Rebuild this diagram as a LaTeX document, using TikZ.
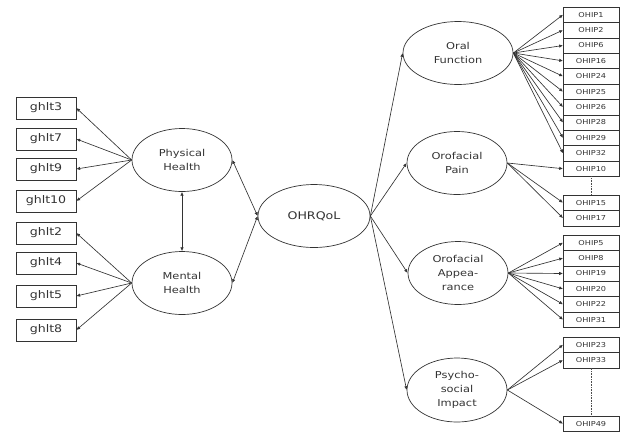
\documentclass[tikz,border=0pt]{standalone}
\usepackage{fontspec}
\newfontfamily\diagfont{DejaVu Sans}[FakeStretch=1.2]
\usepackage{tikz}
\usetikzlibrary{positioning,arrows.meta,shapes.geometric}
\tikzset{
  fac/.style  ={ellipse, draw=black!80, line width=0.7pt, minimum width=100pt, minimum height=63pt,
                inner sep=1pt, align=center, text=black!80, font=\diagfont\fontsize{9.5}{14}\selectfont},
  gbox/.style ={rectangle, draw=black!80, line width=0.7pt, minimum width=60pt, minimum height=22pt,
                inner sep=1pt, text=black!80, font=\diagfont\fontsize{10.5}{12}\selectfont},
  obox/.style ={rectangle, draw=black!80, line width=0.6pt, minimum width=56pt, minimum height=15.4pt,
                inner sep=0.5pt, outer sep=0pt, text=black!80, font=\diagfont\fontsize{6.8}{8}\selectfont},
  arr/.style  ={-{Latex[length=3.8pt,width=3.4pt]}, line width=0.65pt, draw=black!80},
  darr/.style ={{Latex[length=3.8pt,width=3.4pt]}-{Latex[length=3.8pt,width=3.4pt]}, line width=0.65pt, draw=black!80},
  dotline/.style={densely dotted, line width=0.6pt, draw=black!70},
}

\begin{document}
\begin{tikzpicture}[x=1pt, y=-1pt]
  \useasboundingbox (0,0) rectangle (626,432);
  % latent factors
  \node[fac, minimum width=112pt, font=\diagfont\fontsize{10.5}{14}\selectfont] (qol) at (314,216) {OHRQoL};
  \node[fac] (phys)   at (182,160) {Physical\\Health};
  \node[fac] (ment)   at (182,283) {Mental\\Health};
  \node[fac, minimum width=110pt] (oral) at (458,53) {Oral\\Function};
  \node[fac] (pain)   at (457,163) {Orofacial\\Pain};
  \node[fac] (appear) at (458,273) {Orofacial\\Appea-\\rance};
  \node[fac, minimum height=64pt] (psych) at (457,390) {Psycho-\\social\\Impact};

  % ghlt items
  \node[gbox] (g3)  at (46,108) {ghlt3};
  \node[gbox] (g7)  at (46,139) {ghlt7};
  \node[gbox] (g9)  at (46,169) {ghlt9};
  \node[gbox] (g10) at (46,201) {ghlt10};
  \node[gbox] (g2)  at (46,233) {ghlt2};
  \node[gbox] (g4)  at (46,263) {ghlt4};
  \node[gbox] (g5)  at (46,296) {ghlt5};
  \node[gbox] (g8)  at (46,330) {ghlt8};

  % OHIP items
  \node[obox] (o1) at (591,14.7) {OHIP1};
  \node[obox, below=0pt of o1]  (o2)  {OHIP2};
  \node[obox, below=0pt of o2]  (o6)  {OHIP6};
  \node[obox, below=0pt of o6]  (o16) {OHIP16};
  \node[obox, below=0pt of o16] (o24) {OHIP24};
  \node[obox, below=0pt of o24] (o25) {OHIP25};
  \node[obox, below=0pt of o25] (o26) {OHIP26};
  \node[obox, below=0pt of o26] (o28) {OHIP28};
  \node[obox, below=0pt of o28] (o29) {OHIP29};
  \node[obox, below=0pt of o29] (o32) {OHIP32};
  \node[obox, below=0pt of o32] (o10) {OHIP10};
  \node[obox] (o15) at (591,202.7) {OHIP15};
  \node[obox, below=0pt of o15] (o17) {OHIP17};
  \node[obox] (o5) at (591,242.7) {OHIP5};
  \node[obox, below=0pt of o5]  (o8)  {OHIP8};
  \node[obox, below=0pt of o8]  (o19) {OHIP19};
  \node[obox, below=0pt of o19] (o20) {OHIP20};
  \node[obox, below=0pt of o20] (o22) {OHIP22};
  \node[obox, below=0pt of o22] (o31) {OHIP31};
  \node[obox] (o23) at (591,344.7) {OHIP23};
  \node[obox, below=0pt of o23] (o33) {OHIP33};
  \node[obox] (o49) at (591,423.7) {OHIP49};

  \draw[dotline] (o10.south) -- (o15.north);
  \draw[dotline] (o33.south) -- (o49.north);

  % structural paths
  \draw[darr] (qol.west) -- (phys.east);
  \draw[darr] (qol.west) -- (ment.east);
  \draw[darr] (phys.south) -- (ment.north);
  \draw[arr] (qol.east) -- (oral.west);
  \draw[arr] (qol.east) -- (pain.west);
  \draw[arr] (qol.east) -- (appear.west);
  \draw[arr] (qol.east) -- (psych.west);

  % loadings
  \draw[arr] (phys.west) -- (g3.east);
  \draw[arr] (phys.west) -- (g7.east);
  \draw[arr] (phys.west) -- (g9.east);
  \draw[arr] (phys.west) -- (g10.east);
  \draw[arr] (ment.west) -- (g2.east);
  \draw[arr] (ment.west) -- (g4.east);
  \draw[arr] (ment.west) -- (g5.east);
  \draw[arr] (ment.west) -- (g8.east);

  \draw[arr] (oral.east) -- (o1.west);
  \draw[arr] (oral.east) -- (o2.west);
  \draw[arr] (oral.east) -- (o6.west);
  \draw[arr] (oral.east) -- (o16.west);
  \draw[arr] (oral.east) -- (o24.west);
  \draw[arr] (oral.east) -- (o25.west);
  \draw[arr] (oral.east) -- (o26.west);
  \draw[arr] (oral.east) -- (o28.west);
  \draw[arr] (oral.east) -- (o29.west);
  \draw[arr] (oral.east) -- (o32.west);
  \draw[arr] (pain.east) -- (o10.west);
  \draw[arr] (pain.east) -- (o15.west);
  \draw[arr] (pain.east) -- (o17.west);
  \draw[arr] (appear.east) -- (o5.west);
  \draw[arr] (appear.east) -- (o8.west);
  \draw[arr] (appear.east) -- (o19.west);
  \draw[arr] (appear.east) -- (o20.west);
  \draw[arr] (appear.east) -- (o22.west);
  \draw[arr] (appear.east) -- (o31.west);
  \draw[arr] (psych.east) -- (o23.west);
  \draw[arr] (psych.east) -- (o33.west);
  \draw[arr] (psych.east) -- (o49.west);
\end{tikzpicture}
\end{document}
